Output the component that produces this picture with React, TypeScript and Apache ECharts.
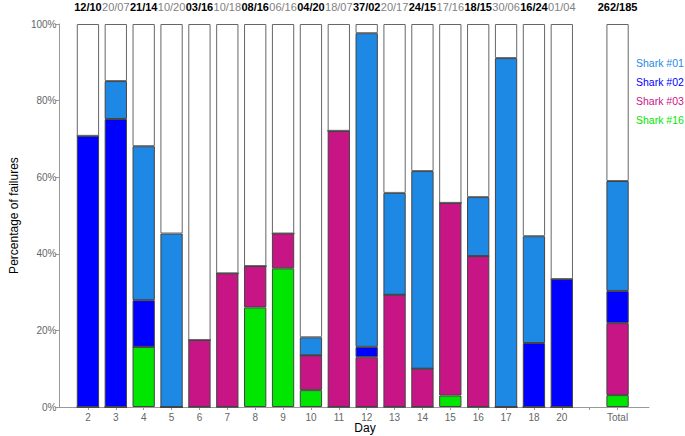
import React, { useEffect, useRef } from "react";
import * as echarts from "echarts";

const days = ["2", "3", "4", "5", "6", "7", "8", "9", "10", "11", "12", "13", "14", "15", "16", "17", "18", "20", "", "Total"];
const topLabels = ["12/10", "20/07", "21/14", "10/20", "03/16", "10/18", "08/16", "06/16", "04/20", "18/07", "37/02", "20/17", "24/15", "17/16", "18/15", "30/06", "16/24", "01/04", "", "262/185"];
const yTicks = [0, 20, 40, 60, 80, 100];

// segment heights (percent), stacked bottom to top
const shark16 = [0, 0, 15.7, 0, 0, 0, 26.0, 36.2, 4.4, 0, 0, 0, 0, 3.0, 0, 0, 0, 0, null, 3.1];
const shark03 = [0, 0, 0, 0, 17.5, 34.9, 10.8, 9.1, 9.1, 72.1, 13.0, 29.3, 10.0, 50.3, 39.4, 0, 0, 0, null, 18.8];
const shark02 = [70.8, 75.2, 12.2, 0, 0, 0, 0, 0, 0, 0, 2.7, 0, 0, 0, 0, 0, 16.7, 33.4, null, 8.4];
const shark01 = [0, 9.9, 40.2, 45.3, 0, 0, 0, 0, 4.7, 0, 81.9, 26.6, 51.6, 0, 15.4, 91.1, 27.9, 0, null, 28.7];

const seriesNames = ["Shark #16", "Shark #03", "Shark #02", "Shark #01"];
const seriesColors = ["#00E600", "#C71585", "#0000FF", "#1E88E5"];

export default function App() {
  const ref = useRef<HTMLDivElement>(null);
  useEffect(() => {
    if (!ref.current) return;
    const chart = echarts.init(ref.current, null, { renderer: "svg" });
    const font = "Liberation Sans, Arial, sans-serif";
    const all = [shark16, shark03, shark02, shark01];
    const rest = days.map((_, i) =>
      shark16[i] === null ? null : +(100 - all.reduce((s, a) => s + (a[i] as number), 0)).toFixed(2)
    );
    const barStyle = (color: string) => ({ color, borderColor: "#444", borderWidth: 1 });
    const series: any[] = all.map((d, k) => ({
      name: seriesNames[k],
      type: "bar",
      stack: "a",
      xAxisIndex: 1,
      yAxisIndex: 1,
      barCategoryGap: "20%",
      data: d,
      itemStyle: barStyle(seriesColors[k]),
    }));
    series.push({
      name: "rest",
      type: "bar",
      stack: "a",
      xAxisIndex: 1,
      yAxisIndex: 1,
      barCategoryGap: "20%",
      data: rest,
      itemStyle: { color: "#FFFFFF", borderColor: "#666", borderWidth: 1 },
    });
    const legendOrder = [3, 2, 1, 0];
    chart.setOption({
      animation: false,
      backgroundColor: "#FFFFFF",
      textStyle: { fontFamily: font },
      grid: [
        { left: 47, right: 36, top: 24, bottom: 29 },
        { left: 74, right: 53.5, top: 24, bottom: 29 },
      ],
      legend: {
        orient: "vertical",
        left: 631,
        top: 56,
        padding: 0,
        icon: "none",
        itemWidth: 0,
        itemHeight: 14,
        itemGap: 6.5,
        selectedMode: false,
        textStyle: { fontSize: 10.5, fontFamily: font },
        data: legendOrder.map((k) => ({ name: seriesNames[k], textStyle: { color: seriesColors[k] } })),
      },
      graphic: [
        {
          type: "text",
          x: 365,
          y: 428,
          style: { text: "Day", fontSize: 12, fill: "#000", fontFamily: font, align: "center", verticalAlign: "middle" },
        },
      ],
      xAxis: [
        {
          gridIndex: 0,
          type: "value",
          min: 0,
          max: 1,
          axisLine: { show: true, lineStyle: { color: "#999", width: 1 } },
          axisTick: { show: false },
          axisLabel: { show: false },
          splitLine: { show: false },
        },
        {
          gridIndex: 1,
          type: "category",
          data: days,
          axisLine: { show: false },
          axisTick: { show: true, alignWithLabel: true, interval: 0, length: 3, lineStyle: { color: "#999" } },
          axisLabel: { interval: 0, color: "#666", fontSize: 10, margin: 5, fontFamily: font },
          splitLine: { show: false },
        },
        {
          gridIndex: 1,
          type: "category",
          position: "top",
          data: topLabels,
          axisLine: { show: false },
          axisTick: { show: false },
          axisLabel: {
            interval: 0,
            margin: 12,
            fontSize: 11,
            fontFamily: font,
            formatter: (v: string, i: number) => {
              if (!v) return "";
              const bold = i % 2 === 0 || days[i] === "Total";
              return bold ? `{b|${v}}` : `{g|${v}}`;
            },
            rich: {
              b: { fontWeight: "bold", color: "#000", fontSize: 11, fontFamily: font },
              g: { color: "#808080", fontSize: 11, fontFamily: font },
            },
          },
        },
      ],
      yAxis: [
        {
          gridIndex: 0,
          type: "value",
          min: yTicks[0],
          max: yTicks[yTicks.length - 1],
          interval: 20,
          axisLine: { show: true, lineStyle: { color: "#999", width: 1 } },
          axisTick: { show: true, length: 4, lineStyle: { color: "#999" } },
          axisLabel: { formatter: "{value}%", color: "#666", fontSize: 10, margin: 3, fontFamily: font },
          splitLine: { show: false },
          name: "Percentage of failures",
          nameLocation: "middle",
          nameGap: 36,
          nameTextStyle: { fontSize: 12, color: "#000", fontFamily: font },
        },
        { gridIndex: 1, type: "value", min: 0, max: 100, show: false },
      ],
      series,
    });
    return () => chart.dispose();
  }, []);
  return <div ref={ref} style={{ position: "absolute", left: 0, top: 0, width: 685, height: 436 }} />;
}
